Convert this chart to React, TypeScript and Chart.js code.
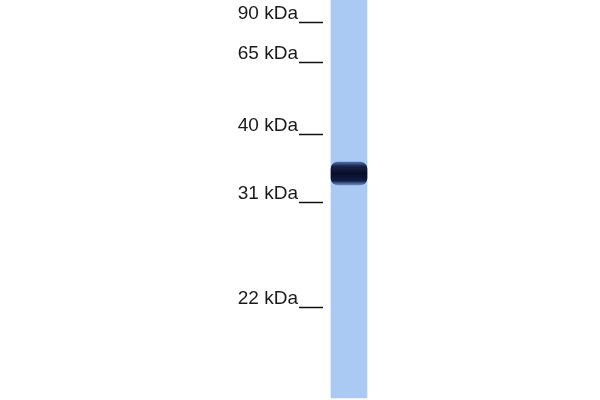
import { useEffect, useRef } from "react";
import { Chart, registerables } from "chart.js";

Chart.register(...registerables);

// marker ladder: labels and migration distance (px from top of the blot)
const markerLabels = ["90 kDa", "65 kDa", "40 kDa", "31 kDa", "22 kDa"];
const markerPositions = [22, 62, 134, 202, 307];

// the single lane and its one band
const laneCenter = 349;
const laneRange: [number, number] = [0, 398];
const bandRange: [number, number] = [162, 185];

export default function App() {
  const canvasRef = useRef<HTMLCanvasElement>(null);

  useEffect(() => {
    const canvas = canvasRef.current;
    if (!canvas) return;

    const existing = Chart.getChart(canvas);
    if (existing) existing.destroy();

    const chart = new Chart(canvas, {
      type: "bar",
      data: {
        datasets: [
          {
            label: "band",
            data: [{ x: laneCenter, y: bandRange }] as any,
            barThickness: 36,
            borderRadius: 7,
            borderSkipped: false,
            backgroundColor: (ctx: any) => {
              const { chart } = ctx;
              const y = chart.scales.y;
              if (!y) return "#0d1530";
              const top = y.getPixelForValue(bandRange[0]);
              const bottom = y.getPixelForValue(bandRange[1]);
              if (!Number.isFinite(top) || !Number.isFinite(bottom)) return "#0d1530";
              const g = chart.ctx.createLinearGradient(0, top, 0, bottom);
              g.addColorStop(0, "rgba(70,100,160,0.9)");
              g.addColorStop(0.18, "#18234a");
              g.addColorStop(0.5, "#080f2a");
              g.addColorStop(0.82, "#111c40");
              g.addColorStop(1, "rgba(90,120,180,0.8)");
              return g;
            },
            order: 0,
          },
          {
            label: "lane",
            data: [{ x: laneCenter, y: laneRange }] as any,
            barThickness: 36,
            backgroundColor: "#aacaf3",
            borderSkipped: false,
            order: 1,
          },
        ],
      },
      options: {
        animation: false,
        responsive: true,
        maintainAspectRatio: false,
        layout: { padding: 0 },
        plugins: {
          legend: { display: false },
          tooltip: { enabled: false },
        },
        datasets: { bar: { grouped: false } },
        scales: {
          x: {
            type: "linear",
            display: false,
            offset: false,
            min: 323,
            max: 600,
          },
          y: {
            type: "linear",
            reverse: true,
            min: 0,
            max: 400,
            afterBuildTicks: (scale: any) => {
              scale.ticks = markerPositions.map((v) => ({ value: v }));
            },
            afterFit: (scale: any) => {
              scale.width = 323;
              scale.paddingTop = 0;
              scale.paddingBottom = 0;
            },
            border: { display: false },
            grid: {
              drawOnChartArea: false,
              drawTicks: true,
              tickLength: 24,
              tickColor: "#111",
              tickWidth: 1.5,
            },
            ticks: {
              autoSkip: false,
              padding: 1,
              labelOffset: -8,
              color: "#1a1a1a",
              font: { family: "'Liberation Sans', Arial, sans-serif", size: 19 },
              callback: (_v: any, i: number) => markerLabels[i],
            },
          },
        },
      },
    });

    return () => chart.destroy();
  }, []);

  return (
    <div style={{ position: "absolute", left: 0, top: 0, width: 600, height: 400, background: "#fff" }}>
      <canvas ref={canvasRef} aria-label="western blot with marker ladder" />
    </div>
  );
}
